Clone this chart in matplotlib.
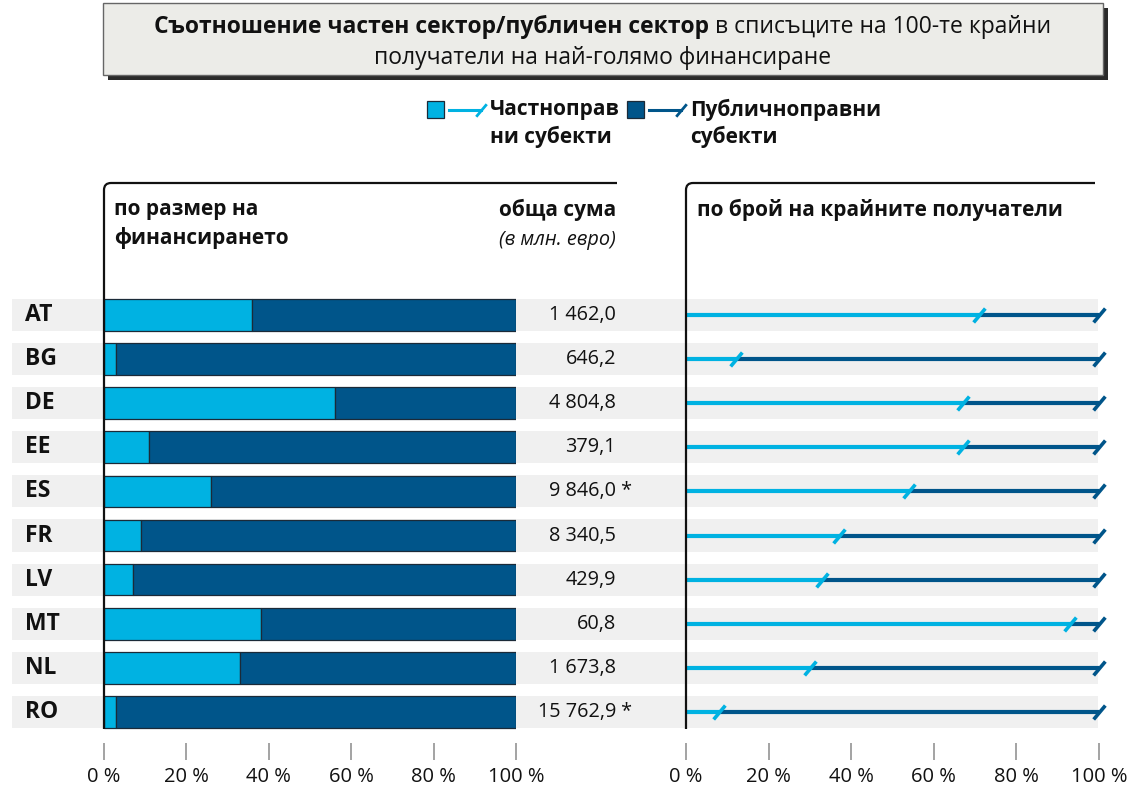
import matplotlib
matplotlib.use('Agg')
import matplotlib.pyplot as plt
from matplotlib.path import Path
from matplotlib.patches import PathPatch, Rectangle
from matplotlib.lines import Line2D
import matplotlib.transforms as mtransforms

plt.rcParams['font.family'] = ['Open Sans', 'DejaVu Sans']

# ---------------- data ----------------
countries = ['AT', 'BG', 'DE', 'EE', 'ES', 'FR', 'LV', 'MT', 'NL', 'RO']
private_funding = [36, 3, 56, 11, 26, 9, 7, 38, 33, 3]
public_funding = [64, 97, 44, 89, 74, 91, 93, 62, 67, 97]
private_count = [71, 12, 67, 67, 54, 37, 33, 93, 30, 8]
public_count = [29, 88, 33, 33, 46, 63, 67, 7, 70, 92]
totals = [1462.0, 646.2, 4804.8, 379.1, 9846.0, 8340.5, 429.9, 60.8, 1673.8, 15762.9]
totals_flag = ['', '', '', '', ' *', '', '', '', '', ' *']
x_ticks = [0, 20, 40, 60, 80, 100]
x_tick_labels = ['0 %', '20 %', '40 %', '60 %', '80 %', '100 %']

title_bold = 'Съотношение частен сектор/публичен сектор'
title_regular = ' в списъците на 100-те крайни'
title_line2 = 'получатели на най-голямо финансиране'
legend_labels = ['Частноправ\nни субекти', 'Публичноправни\nсубекти']
header_left = 'по размер на\nфинансирането'
header_total = 'обща сума'
header_total_unit = '(в млн. евро)'
header_right = 'по брой на крайните получатели'

LIGHT = '#00b2e2'
DARK = '#00558a'
BAND = '#f0f0f0'
EDGE = '#1b2a38'
TXT = '#111111'

# ---------------- layout helpers ----------------
W, H = 1131, 789
fig = plt.figure(figsize=(W / 100, H / 100), dpi=100)


def fx(x):
    return x / W


def fy(y):
    return 1 - y / H


def add_axes_px(x0, x1, y_top, y_bot):
    return fig.add_axes([fx(x0), fy(y_bot), (x1 - x0) / W, (y_bot - y_top) / H])


ROW0, STEP = 315, 44.1
Y_TOP, Y_BOT = 183, 743
ylim = ((Y_BOT - ROW0) / STEP, (Y_TOP - ROW0) / STEP)
rows = list(range(len(countries)))
BAR_H = 0.72

# background bands
ax_bg = add_axes_px(12, 1098, Y_TOP, Y_BOT)
ax_bg.set_xlim(0, 1)
ax_bg.set_ylim(*ylim)
ax_bg.barh(rows, [1] * len(rows), left=0, height=0.73, color=BAND, linewidth=0)
ax_bg.axis('off')

# left axes (bars)
axL = add_axes_px(104, 516, Y_TOP, Y_BOT)
# right axes (lines)
axR = add_axes_px(686, 1099, Y_TOP, Y_BOT)

for ax in (axL, axR):
    ax.set_facecolor('none')
    ax.set_xlim(0, 100)
    ax.set_ylim(*ylim)
    for s in ax.spines.values():
        s.set_visible(False)
    ax.set_yticks([])
    ax.set_xticks(x_ticks)
    ax.set_xticklabels(x_tick_labels, fontsize=14.5)
    ax.tick_params(axis='x', length=12.5, width=1.1, color='#8a8a8a', pad=5,
                   labelcolor=TXT)

axL.barh(rows, private_funding, height=BAR_H, color=LIGHT, edgecolor=EDGE, linewidth=0.9, zorder=3)
axL.barh(rows, public_funding, left=private_funding, height=BAR_H, color=DARK,
         edgecolor=EDGE, linewidth=0.9, zorder=3)

# right panel lines
slash = Path([(-0.42, -0.5), (0.42, 0.5)], [Path.MOVETO, Path.LINETO])
ends = [p + q for p, q in zip(private_count, public_count)]
axR.hlines(rows, private_count, ends, color=DARK, linewidth=3.0, zorder=3)
axR.hlines(rows, 0, private_count, color=LIGHT, linewidth=3.0, zorder=3)
axR.plot(ends, rows, linestyle='none', marker=slash, markersize=10,
         markeredgewidth=2.6, markeredgecolor=DARK, zorder=4, clip_on=False)
axR.plot(private_count, rows, linestyle='none', marker=slash, markersize=10,
         markeredgewidth=2.6, markeredgecolor=LIGHT, zorder=5, clip_on=False)

# country labels and totals
blend = mtransforms.blended_transform_factory(fig.transFigure, axL.transData)
for i, c in enumerate(countries):
    axL.text(fx(25), i, c, transform=blend, fontsize=16.5, fontweight='bold',
             ha='left', va='center', color=TXT)
    s = f"{totals[i]:,.1f}".replace(',', ' ').replace('.', ',')
    axL.text(fx(616), i, s, transform=blend, fontsize=14.3, ha='right',
             va='center', color=TXT)
    if totals_flag[i]:
        axL.text(fx(616), i, totals_flag[i], transform=blend, fontsize=14.3,
                 ha='left', va='center', color=TXT)

# panel frames with rounded corner
def frame(x0, x1, ytop, ybot, r=7):
    verts = [(fx(x0), fy(ybot)), (fx(x0), fy(ytop + r)), (fx(x0), fy(ytop)),
             (fx(x0 + r), fy(ytop)), (fx(x1), fy(ytop))]
    codes = [Path.MOVETO, Path.LINETO, Path.CURVE3, Path.CURVE3, Path.LINETO]
    fig.patches.append(PathPatch(Path(verts, codes), transform=fig.transFigure,
                                 fill=False, edgecolor=TXT, linewidth=1.6,
                                 capstyle='butt', joinstyle='round'))

frame(104, 617, 183, 729)
frame(686, 1095, 183, 729)

# panel headers
fig.text(fx(114), fy(210), header_left.split('\n')[0], fontsize=15, fontweight='bold',
         ha='left', va='center', color=TXT)
fig.text(fx(114), fy(238), header_left.split('\n')[1], fontsize=15, fontweight='bold',
         ha='left', va='center', color=TXT)
fig.text(fx(616), fy(210), header_total, fontsize=15, fontweight='bold',
         ha='right', va='center', color=TXT)
fig.text(fx(616), fy(240), header_total_unit, fontsize=14.3, style='italic',
         ha='right', va='center', color=TXT)
fig.text(fx(697), fy(210), header_right, fontsize=15, fontweight='bold',
         ha='left', va='center', color=TXT)

# title box
fig.patches.append(Rectangle((fx(108), fy(80)), (1108 - 108) / W, (80 - 8) / H,
                             transform=fig.transFigure, facecolor='#2a2a2a',
                             edgecolor='none', zorder=1))
fig.patches.append(Rectangle((fx(103), fy(75)), (1103 - 103) / W, (75 - 3) / H,
                             transform=fig.transFigure, facecolor='#ececE8',
                             edgecolor='#666666', linewidth=1, zorder=2))

renderer = fig.canvas.get_renderer()
t1 = fig.text(0, fy(27), title_bold, fontsize=16.5, fontweight='bold', ha='left',
              va='center', color=TXT, zorder=3)
t2 = fig.text(0, fy(27), title_regular, fontsize=16.5, ha='left', va='center',
              color=TXT, zorder=3)
w1 = t1.get_window_extent(renderer).width
w2 = t2.get_window_extent(renderer).width
x_start = 603 - (w1 + w2) / 2
t1.set_x(fx(x_start))
t2.set_x(fx(x_start + w1))
fig.text(fx(603), fy(58), title_line2, fontsize=16.5, ha='center', va='center',
         color=TXT, zorder=3)

# legend
for (sx, col, tx, lab) in [(427, LIGHT, 490, legend_labels[0]),
                           (627, DARK, 690, legend_labels[1])]:
    fig.patches.append(Rectangle((fx(sx), fy(118)), 17 / W, 17 / H,
                                 transform=fig.transFigure, facecolor=col,
                                 edgecolor=EDGE, linewidth=0.9))
    fig.lines.append(Line2D([fx(sx + 22), fx(sx + 54)], [fy(110), fy(110)],
                            transform=fig.transFigure, color=col, linewidth=2.2))
    fig.lines.append(Line2D([fx(sx + 54)], [fy(110)], transform=fig.transFigure,
                            linestyle='none', marker=slash, markersize=9,
                            markeredgewidth=2.0, markeredgecolor=col))
    l1, l2 = lab.split('\n')
    fig.text(fx(tx), fy(110), l1, fontsize=15, fontweight='bold', ha='left',
             va='center', color=TXT)
    fig.text(fx(tx), fy(137), l2, fontsize=15, fontweight='bold', ha='left',
             va='center', color=TXT)

fig.savefig('out.png', dpi=100)
